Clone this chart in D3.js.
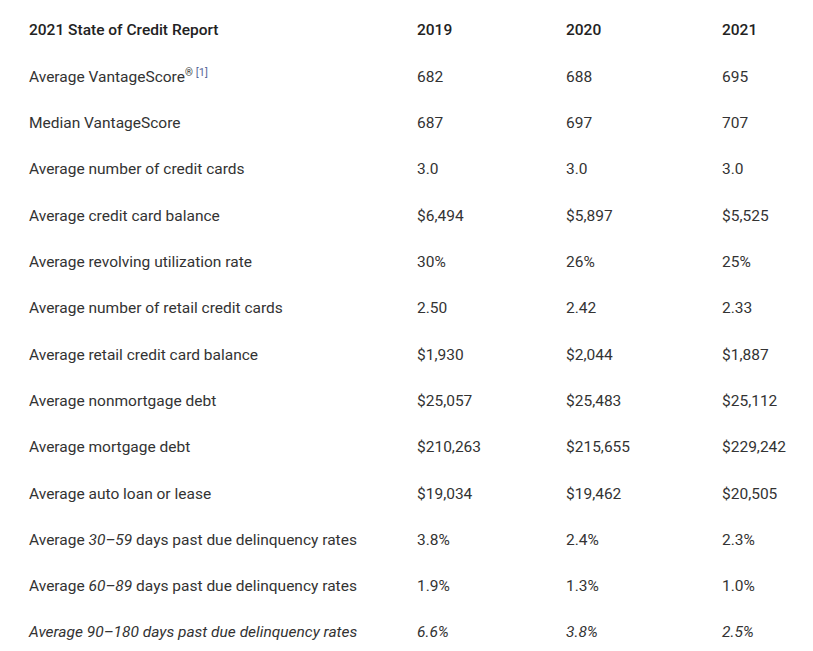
<!DOCTYPE html>
<html>
<head>
<meta charset="utf-8">
<script src="https://cdn.jsdelivr.net/npm/d3@7"></script>
<style>
  body { margin: 0; background: #fff; }
  text { font-family: Roboto, "Noto Sans", sans-serif; font-size: 15.5px; fill: #333; }
  .head { font-weight: 500; fill: #222; }
</style>
</head>
<body>
<div class="credit-table"></div>
<script>
const title = "2021 State of Credit Report";
const years = ["2019", "2020", "2021"];
const labels = [
  "Average VantageScore",
  "Median VantageScore",
  "Average number of credit cards",
  "Average credit card balance",
  "Average revolving utilization rate",
  "Average number of retail credit cards",
  "Average retail credit card balance",
  "Average nonmortgage debt",
  "Average mortgage debt",
  "Average auto loan or lease",
  "Average 30–59 days past due delinquency rates",
  "Average 60–89 days past due delinquency rates",
  "Average 90–180 days past due delinquency rates"
];
const values2019 = ["682", "687", "3.0", "$6,494", "30%", "2.50", "$1,930", "$25,057", "$210,263", "$19,034", "3.8%", "1.9%", "6.6%"];
const values2020 = ["688", "697", "3.0", "$5,897", "26%", "2.42", "$2,044", "$25,483", "$215,655", "$19,462", "2.4%", "1.3%", "3.8%"];
const values2021 = ["695", "707", "3.0", "$5,525", "25%", "2.33", "$1,887", "$25,112", "$229,242", "$20,505", "2.3%", "1.0%", "2.5%"];

const width = 813, height = 651;
const svg = d3.select(".credit-table").append("svg")
  .attr("width", width).attr("height", height);

// row positions (header + 13 rows)
const rowKeys = ["head"].concat(labels);
const y = d3.scalePoint().domain(rowKeys).range([30, 632]);
const x = d3.scaleOrdinal().domain(["label"].concat(years)).range([29, 417, 566, 722]);

// header
svg.append("text").attr("class", "head").attr("x", x("label")).attr("y", y("head"))
  .attr("dy", "0.35em").text(title);
years.forEach(yr => {
  svg.append("text").attr("class", "head").attr("x", x(yr)).attr("y", y("head"))
    .attr("dy", "0.35em").text(yr);
});

const cols = [values2019, values2020, values2021];

labels.forEach((lab, i) => {
  const t = svg.append("text").attr("x", x("label")).attr("y", y(lab)).attr("dy", "0.35em");
  const italicRow = i === labels.length - 1;
  if (italicRow) t.style("font-style", "italic");
  const m = lab.match(/^(Average )(\d+–\d+)( .*)$/);
  if (m && !italicRow) {
    t.append("tspan").text(m[1]);
    t.append("tspan").style("font-style", "italic").text(m[2]);
    t.append("tspan").text(m[3]);
  } else {
    t.text(lab);
  }
  if (i === 0) {
    t.append("tspan").attr("dy", "-0.55em").style("font-size", "10px").text("®");
    t.append("tspan").attr("dx", "3").style("font-size", "11px").style("fill", "#5a6a9a").text("[1]");
  }
  cols.forEach((vals, j) => {
    const v = svg.append("text").attr("x", x(years[j])).attr("y", y(lab)).attr("dy", "0.35em").text(vals[i]);
    if (italicRow) v.style("font-style", "italic");
  });
});
</script>
</body>
</html>
